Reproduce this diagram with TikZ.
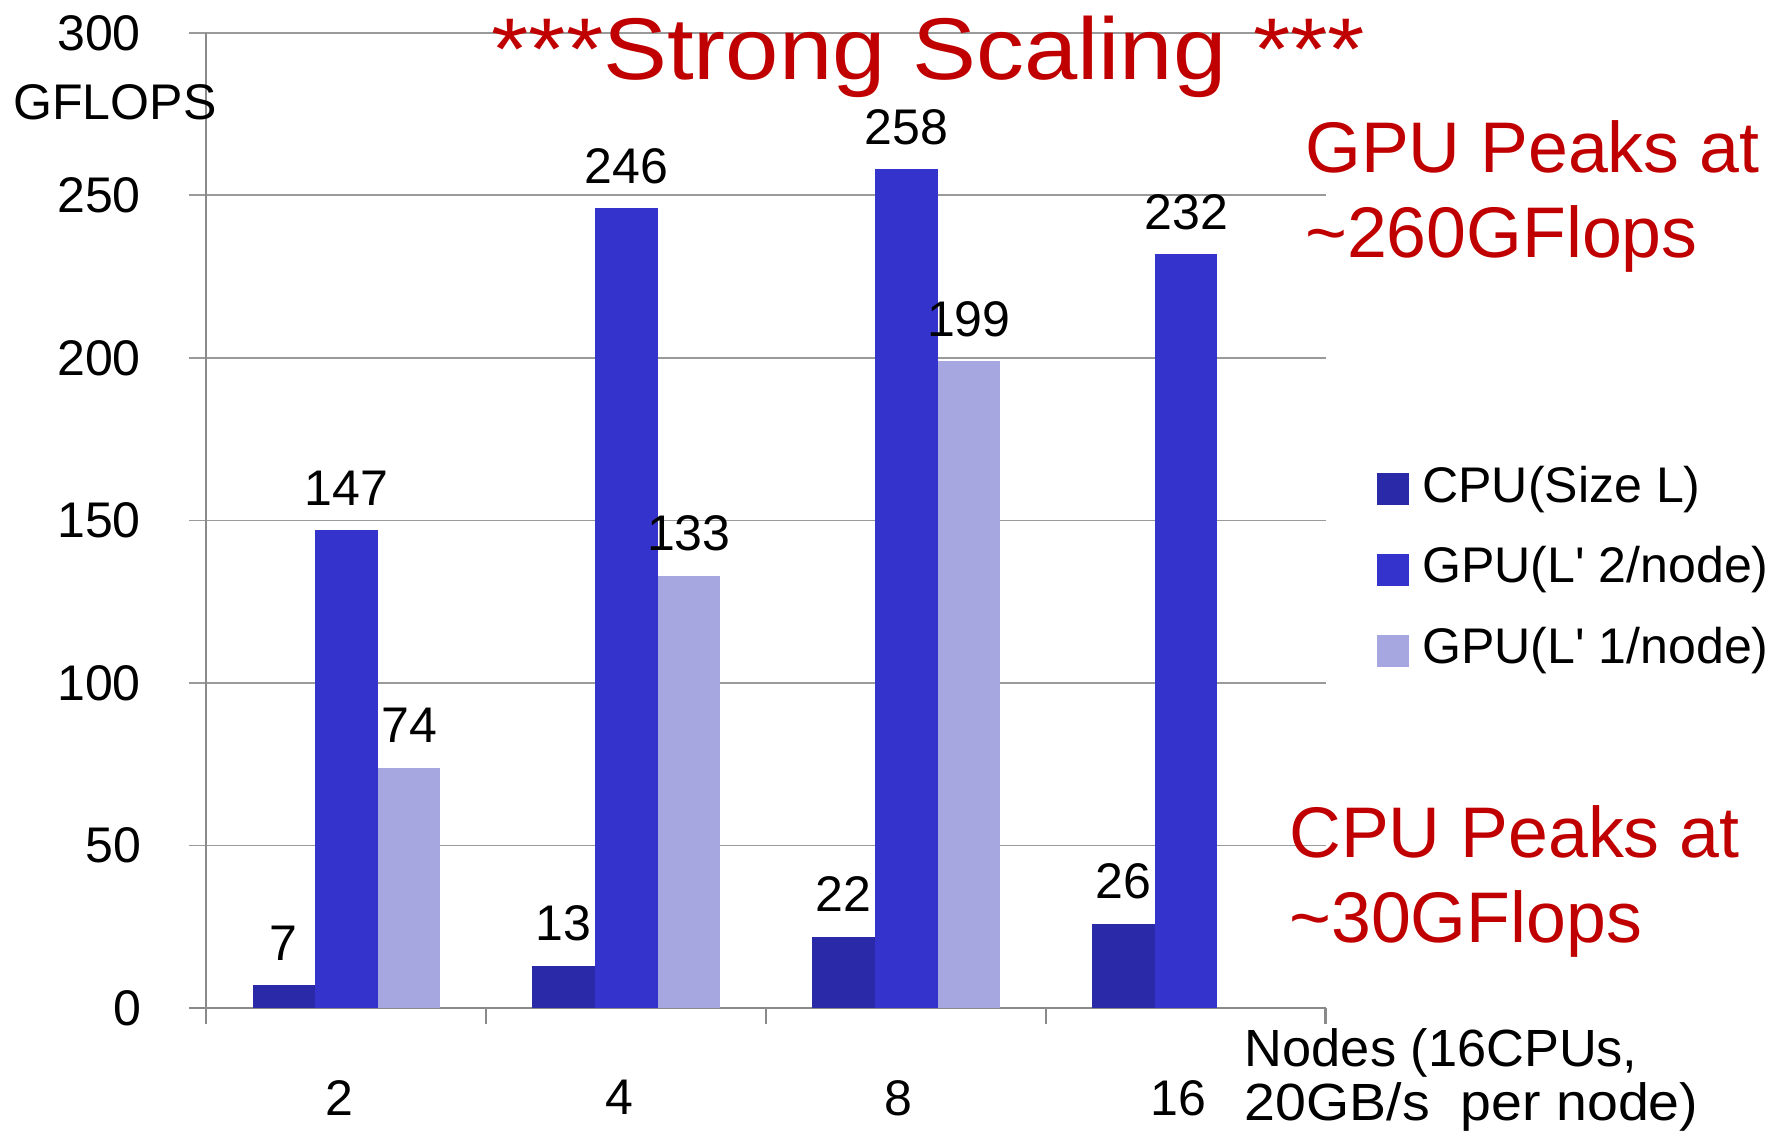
\documentclass[tikz,border=0pt]{standalone}
\usepackage{fontspec}
\setmainfont{Liberation Sans}
\definecolor{cpubar}{HTML}{2A2AA8}
\definecolor{gputwobar}{HTML}{3434CC}
\definecolor{gpuonebar}{HTML}{A6A6E0}
\definecolor{notered}{HTML}{C00000}
\definecolor{gridgray}{HTML}{9A9A9A}
\definecolor{axisgray}{HTML}{8A8A8A}
\begin{document}
\begin{tikzpicture}[x=1pt,y=1pt,
  lbl/.style={font=\fontsize{44}{48}\selectfont, inner sep=0pt},
  note/.style={font=\fontsize{63}{70}\selectfont, text=notered, inner sep=0pt, anchor=base west},
  gridline/.style={draw=gridgray, line width=1.6pt},
  axisline/.style={draw=axisgray, line width=1.8pt}]
\useasboundingbox (0,0) rectangle (1568,999);

% plot area: origin at the axis corner, one y unit = 1 GFLOPS
\begin{scope}[shift={(181pt,113pt)}, y=2.857pt]
  % horizontal grid lines with their left ticks
  \foreach \v in {50,100,...,300}
    \draw[gridline] (-15,\v) -- (984,\v);
  % axes
  \draw[axisline] (0,0) -- (0,300);
  \draw[axisline] (-15,0) -- (984,0);
  \foreach \t in {0,246,492,738,984}
    \draw[axisline] (\t,0) -- (\t,-4.9);
  % y tick labels
  \foreach \v in {0,50,...,300}
    \node[lbl, anchor=east] (ylab\v) at (-57,\v) {\v};

  % bars: CPU, GPU (2/node), GPU (1/node) per node count
  \foreach \i/\a/\b/\c in {0/7/147/74, 1/13/246/133, 2/22/258/199}{
    \pgfmathsetmacro{\cx}{246*\i}
    \fill[cpubar] (\cx+41,0) rectangle (\cx+96,\a);
    \fill[gputwobar] (\cx+96,0) rectangle (\cx+151,\b);
    \fill[gpuonebar] (\cx+151,0) rectangle (\cx+206,\c);
    \node[lbl] (cpuval\i) at (\cx+68.5,\a) [yshift=37pt] {\a};
    \node[lbl] (gputwoval\i) at (\cx+123.5,\b) [yshift=37pt] {\b};
    \node[lbl] (gpuoneval\i) at (\cx+178.5,\c) [yshift=37pt] {\c};
  }
  \fill[cpubar] (779,0) rectangle (834,26);
  \fill[gputwobar] (834,0) rectangle (889,232);
  \node[lbl] (cpuval3) at (806.5,26) [yshift=37pt] {26};
  \node[lbl] (gputwoval3) at (861.5,232) [yshift=37pt] {232};

  % category labels
  \foreach \i/\n in {0/2,1/4,2/8,3/16}
    \node[lbl] (xlab\i) at (246*\i+117,-27.6) {\n};
\end{scope}

% axis titles
\node[lbl] (ytitle) at (101,909) {GFLOPS};
\node[lbl, anchor=base west, font=\fontsize{46}{50}\selectfont] (xtitleA) at (1094,62) {Nodes (16CPUs,};
\node[lbl, anchor=base west, font=\fontsize{46}{50}\selectfont] (xtitleB) at (1094,14)
  {\scalebox{1.06}[1]{20GB/s\ \ per node)}};

% title
\node[inner sep=0pt, anchor=base, text=notered, font=\fontsize{77}{84}\selectfont] (title) at (816,929)
  {\scalebox{1.094}[1]{***Strong Scaling ***}};

% legend
\fill[cpubar] (1210,555) rectangle (1238,583);
\node[lbl, anchor=west] (legcpu) at (1250,569) {CPU(Size L)};
\fill[gputwobar] (1210,484) rectangle (1238,512);
\node[lbl, anchor=west] (leggputwo) at (1250,498) {GPU(L\textquotesingle{} 2/node)};
\fill[gpuonebar] (1210,413) rectangle (1238,441);
\node[lbl, anchor=west] (leggpuone) at (1250,427) {GPU(L\textquotesingle{} 1/node)};

% annotations
\node[note] (gpunoteA) at (1147,847) {GPU Peaks at};
\node[note] (gpunoteB) at (1147,773) {\textasciitilde 260GFlops};
\node[note] (cpunoteA) at (1133,245) {CPU Peaks at};
\node[note] (cpunoteB) at (1133,171) {\textasciitilde 30GFlops};
\end{tikzpicture}
\end{document}
